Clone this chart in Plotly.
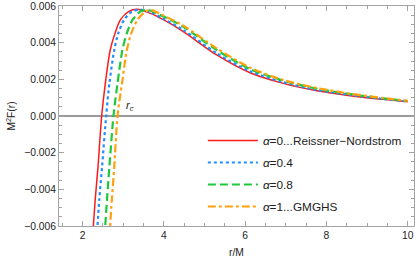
import plotly.graph_objects as go

# ---- data ----
r_a0 = [2.25, 2.31, 2.38, 2.47, 2.56, 2.68, 2.80, 2.93, 3.13, 3.34, 3.67, 4.0, 4.48, 5.30, 6.12, 6.94, 7.76, 8.58, 9.40, 10.0]
F_a0 = [-0.0065, -0.00458, -0.00276, 0.0, 0.00178, 0.0036, 0.00452, 0.00524, 0.00569, 0.00582, 0.0056, 0.00524, 0.0046, 0.00333, 0.00236, 0.00178, 0.00138, 0.00111, 0.00091, 0.00078]

r_a04 = [2.35, 2.41, 2.48, 2.58, 2.66, 2.78, 2.88, 3.02, 3.21, 3.42, 3.67, 4.0, 4.48, 5.30, 6.12, 6.94, 7.76, 8.58, 9.40, 10.0]
F_a04 = [-0.0066, -0.00458, -0.00276, 0.0, 0.00178, 0.0036, 0.00452, 0.00524, 0.00569, 0.0058, 0.00566, 0.00529, 0.00469, 0.00342, 0.00244, 0.00184, 0.00142, 0.00115, 0.00093, 0.0008]

r_a08 = [2.54, 2.60, 2.66, 2.76, 2.86, 2.98, 3.09, 3.23, 3.42, 3.58, 4.0, 4.48, 5.30, 6.12, 6.94, 7.76, 8.58, 9.40, 10.0]
F_a08 = [-0.0066, -0.00458, -0.00276, 0.0, 0.00178, 0.0036, 0.00452, 0.00524, 0.00569, 0.0058, 0.00542, 0.00487, 0.0036, 0.00256, 0.00193, 0.00149, 0.0012, 0.00096, 0.00082]

r_a1 = [2.66, 2.72, 2.78, 2.86, 2.97, 3.09, 3.20, 3.35, 3.54, 3.68, 4.0, 4.48, 5.30, 6.12, 6.94, 7.76, 8.58, 9.40, 10.0]
F_a1 = [-0.0066, -0.00458, -0.00276, 0.0, 0.00178, 0.0036, 0.00452, 0.00524, 0.00569, 0.00578, 0.00547, 0.00493, 0.00369, 0.00264, 0.00196, 0.00153, 0.00122, 0.00098, 0.00083]

names = ["<i>α</i>=0...Reissner−Nordstrom", "<i>α</i>=0.4", "<i>α</i>=0.8", "<i>α</i>=1...GMGHS"]
x_ticks = [2, 4, 6, 8, 10]
y_ticks = [-0.006, -0.004, -0.002, 0.0, 0.002, 0.004, 0.006]
y_ticklabels = ["−0.006", "−0.004", "−0.002", "0.000", "0.002", "0.004", "0.006"]

series = [
    (r_a0, F_a0, "#ff1a1a", 1.5, "solid"),
    (r_a04, F_a04, "#1e8fff", 2.2, "3px,3px"),
    (r_a08, F_a08, "#1ec83c", 2.2, "8px,4px"),
    (r_a1, F_a1, "#ffa010", 2.2, "8px,3px,3px,3px"),
]

fig = go.Figure()
for i, (rr, ff, col, w, dash) in enumerate(series):
    fig.add_trace(go.Scatter(
        x=rr, y=ff, mode="lines", name=names[i], legendgroup=f"g{i}",
        line=dict(color=col, width=w, dash=dash, shape="spline", smoothing=0.8),
    ))

frame = "#a3a3a3"
fig.update_layout(
    width=415, height=258,
    margin=dict(l=59, r=1, t=6, b=32, autoexpand=False),
    paper_bgcolor="white", plot_bgcolor="white",
    font=dict(family="Liberation Sans, Arial, sans-serif", size=10.3, color="#222"),
    showlegend=True,
    legend=dict(
        x=(203 - 59) / 355.3, y=1 - (126 - 6) / 220, xanchor="left", yanchor="top",
        bgcolor="rgba(255,255,255,0)", font=dict(size=11.8, color="#222"),
        tracegroupgap=3, itemwidth=50,
    ),
    xaxis=dict(
        range=[1.42, 10.155], tickvals=x_ticks, ticktext=[str(t) for t in x_ticks],
        ticks="inside", ticklen=5, tickcolor=frame, tickwidth=1,
        minor=dict(dtick=0.5, tick0=0, ticks="inside", ticklen=3, tickcolor=frame),
        showline=True, linecolor=frame, linewidth=1, mirror="ticks",
        showgrid=False, zeroline=False, automargin=False,
        title=dict(text="r/M", standoff=10, font=dict(size=10.3)),
    ),
    yaxis=dict(
        range=[-0.006, 0.006], tickvals=y_ticks, ticktext=y_ticklabels,
        ticks="inside", ticklen=5, tickcolor=frame, tickwidth=1,
        minor=dict(dtick=0.0005, tick0=0, ticks="inside", ticklen=3, tickcolor=frame),
        showline=True, linecolor=frame, linewidth=1, mirror="ticks",
        showgrid=False, zeroline=True, zerolinecolor="#999999", zerolinewidth=1.8,
        automargin=False,
        title=dict(text="M<sup>2</sup>F(r)", standoff=6, font=dict(size=10.3)),
    ),
)

fig.add_annotation(x=3.17, y=0.00052, text="<i>r</i><sub><i>c</i></sub>", showarrow=False,
                   font=dict(size=11, color="#222"), xanchor="center", yanchor="middle")

fig.write_html("out.html", config={"displayModeBar": False},
               post_script="document.body.style.margin='0px';document.body.style.padding='0px';")
